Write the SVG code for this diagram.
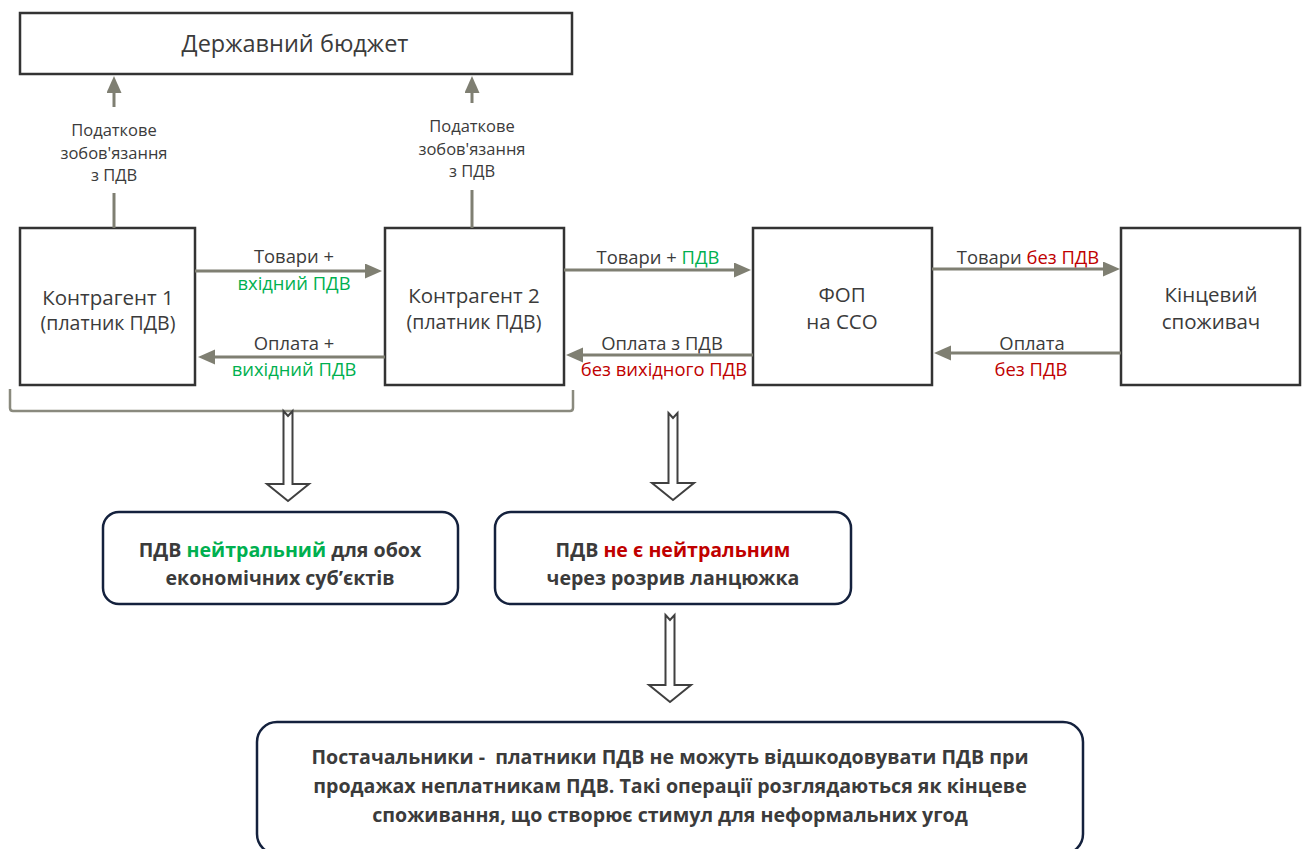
<svg xmlns="http://www.w3.org/2000/svg" width="1307" height="849" viewBox="0 0 1307 849">
<defs>
<style>
text{font-family:"Open Sans","Noto Sans","Liberation Sans",sans-serif;fill:#3b3b3b;text-anchor:middle;}
.node{fill:#fff;stroke:#333;stroke-width:2.5;}
.title{font-size:23.5px;}
.big{font-size:20.5px;}
.sub{font-size:19.5px;}
.lbl{font-size:18.4px;}
.tax{font-size:16.5px;}
.g{fill:#00b050;}
.r{fill:#c00000;}
.res{fill:#fff;stroke:#14213d;stroke-width:2.5;}
.b{font-size:19.6px;font-weight:bold;}
.edge{stroke:#7f7f72;stroke-width:3;fill:none;}
.hollow{fill:#fff;stroke:#404040;stroke-width:2;stroke-linejoin:miter;}
.brace{stroke:#8a8a7e;stroke-width:2.5;fill:none;}
</style>
<marker id="ah" markerUnits="userSpaceOnUse" markerWidth="18" markerHeight="16" refX="1" refY="7.5" orient="auto">
<path d="M0,0 L17,7.5 L0,15 Z" fill="#7f7f72"/>
</marker>
</defs>

<g id="budget">
<rect class="node" x="20" y="13" width="552" height="61"/>
<text class="title" x="295" y="52">Державний бюджет</text>
</g>

<g id="k1">
<rect class="node" x="20" y="228" width="175" height="157"/>
<text class="big" x="108" y="305">Контрагент 1</text>
<text class="sub" x="108" y="330">(платник ПДВ)</text>
</g>

<g id="k2">
<rect class="node" x="385" y="228" width="179" height="157"/>
<text class="big" x="474" y="303">Контрагент 2</text>
<text class="sub" x="474" y="329">(платник ПДВ)</text>
</g>

<g id="fop">
<rect class="node" x="753" y="228" width="179" height="157"/>
<text class="big" x="842" y="302">ФОП</text>
<text class="big" x="842" y="329">на ССО</text>
</g>

<g id="consumer">
<rect class="node" x="1121" y="228" width="179" height="157"/>
<text class="big" x="1211" y="302">Кінцевий</text>
<text class="big" x="1211" y="329">споживач</text>
</g>

<g id="connectors">
<line class="edge" x1="114" y1="228" x2="114" y2="193"/>
<line class="edge" x1="114" y1="107" x2="114" y2="92" marker-end="url(#ah)"/>
<line class="edge" x1="472" y1="228" x2="472" y2="190"/>
<line class="edge" x1="472" y1="103" x2="472" y2="92" marker-end="url(#ah)"/>
<line class="edge" x1="195" y1="271" x2="366" y2="271" marker-end="url(#ah)"/>
<line class="edge" x1="385" y1="357" x2="214" y2="357" marker-end="url(#ah)"/>
<line class="edge" x1="564" y1="270" x2="735" y2="270" marker-end="url(#ah)"/>
<line class="edge" x1="753" y1="355" x2="582" y2="355" marker-end="url(#ah)"/>
<line class="edge" x1="932" y1="269" x2="1104" y2="269" marker-end="url(#ah)"/>
<line class="edge" x1="1121" y1="353" x2="950" y2="353" marker-end="url(#ah)"/>
<path class="brace" d="M10,389 L10,408 Q10,411 13,411 L570,411 Q573,411 573,408 L573,390"/>
<path class="hollow" d="M283.5,411 L288,416 L292.5,411 L292.5,484 L309,484 L288,501 L267,484 L283.5,484 Z"/>
<path class="hollow" d="M668.5,413 L673,418 L677.5,413 L677.5,483 L694,483 L673,500 L652,483 L668.5,483 Z"/>
<path class="hollow" d="M665.5,615 L670,620 L674.5,615 L674.5,685 L691,685 L670,702 L649,685 L665.5,685 Z"/>
</g>

<g id="edge-labels">
<text class="tax" x="114" y="136">Податкове</text>
<text class="tax" x="114" y="158.5">зобов'язання</text>
<text class="tax" x="114" y="181">з ПДВ</text>
<text class="tax" x="472" y="132">Податкове</text>
<text class="tax" x="472" y="154.5">зобов'язання</text>
<text class="tax" x="472" y="177">з ПДВ</text>
<text class="lbl" x="294" y="263">Товари +</text>
<text class="lbl g" x="294" y="290">вхідний ПДВ</text>
<text class="lbl" x="294" y="350">Оплата +</text>
<text class="lbl g" x="294" y="376">вихідний ПДВ</text>
<text class="lbl" x="658" y="264">Товари + <tspan class="g">ПДВ</tspan></text>
<text class="lbl" x="662" y="350">Оплата з ПДВ</text>
<text class="lbl r" x="664" y="376">без вихідного ПДВ</text>
<text class="lbl" x="1028" y="264">Товари <tspan class="r">без ПДВ</tspan></text>
<text class="lbl" x="1032" y="350">Оплата</text>
<text class="lbl r" x="1031" y="376">без ПДВ</text>
</g>

<g id="result1">
<rect class="res" x="103" y="512" width="355" height="92" rx="16"/>
<text class="b" x="280" y="557">ПДВ <tspan class="g">нейтральний</tspan> для обох</text>
<text class="b" x="280" y="585">економічних суб’єктів</text>
</g>

<g id="result2">
<rect class="res" x="495" y="512" width="356" height="92" rx="16"/>
<text class="b" x="673" y="557">ПДВ <tspan class="r">не є нейтральним</tspan></text>
<text class="b" x="673" y="585">через розрив ланцюжка</text>
</g>

<g id="conclusion">
<rect class="res" x="257" y="722" width="826" height="132" rx="20"/>
<text class="b" x="670" y="764" xml:space="preserve">Постачальники -  платники ПДВ не можуть відшкодовувати ПДВ при</text>
<text class="b" x="670" y="793">продажах неплатникам ПДВ. Такі операції розглядаються як кінцеве</text>
<text class="b" x="670" y="822">споживання, що створює стимул для неформальних угод</text>
</g>
</svg>
